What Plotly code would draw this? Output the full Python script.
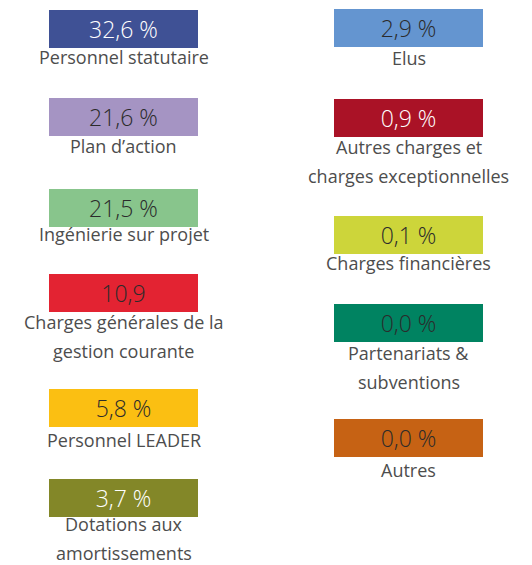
import plotly.graph_objects as go

# ---- data ----
categories = [
    "Personnel statutaire", "Plan d’action", "Ingénierie sur projet",
    "Charges générales de la<br>gestion courante", "Personnel LEADER",
    "Dotations aux<br>amortissements",
    "Elus", "Autres charges et<br>charges exceptionnelles", "Charges financières",
    "Partenariats &<br>subventions", "Autres",
]
values = [32.6, 21.6, 21.5, 10.9, 5.8, 3.7, 2.9, 0.9, 0.1, 0.0, 0.0]
value_labels = ["32,6 %", "21,6 %", "21,5 %", "10,9", "5,8 %", "3,7 %",
                "2,9 %", "0,9 %", "0,1 %", "0,0 %", "0,0 %"]
colors = ["#3F5195", "#A594C3", "#88C58C", "#E32332", "#FBBF12", "#838728",
          "#6495D0", "#AA1226", "#CDD53A", "#008361", "#C66214"]
text_colors = ["white", "#2b2b2b", "#2b2b2b", "#2b2b2b", "#2b2b2b", "white",
               "#2b2b2b", "white", "#2b2b2b", "#2b2b2b", "#2b2b2b"]

# ---- layout (pixel positions of tiles) ----
col_x = [123.5] * 6 + [408.5] * 5
tile_top = [10, 98, 189, 274, 389, 479, 9, 99, 216, 304, 419]
label_y = [57, 146, 234, 322, 440, 524, 58, 147, 263, 353, 470]
line_gap = 29
tile_w = 149
tile_h = 38

fig = go.Figure()
fig.add_trace(go.Bar(
    x=col_x, y=[tile_h] * len(values), base=tile_top, width=tile_w,
    marker=dict(color=colors, line=dict(width=0)),
    text=value_labels, textposition="inside", insidetextanchor="middle",
    textangle=0,
    textfont=dict(family="Open Sans", size=23, color=text_colors, weight=300),
    customdata=values, hoverinfo="skip",
))

for cx, ly, lab in zip(col_x, label_y, categories):
    for i, line in enumerate(lab.split("<br>")):
        fig.add_annotation(x=cx, y=ly + i * line_gap, text=line, showarrow=False,
                           font=dict(family="Open Sans", size=18, color="#4d4d4d"),
                           xanchor="center", yanchor="middle", align="center",
                           borderpad=0)

fig.update_layout(
    width=532, height=565, margin=dict(l=0, r=0, t=0, b=0),
    paper_bgcolor="white", plot_bgcolor="white", showlegend=False,
    uniformtext=dict(minsize=23, mode="show"),
    xaxis=dict(range=[0, 532], visible=False, fixedrange=True),
    yaxis=dict(range=[565, 0], visible=False, fixedrange=True),
)
fig.write_html("out.html", config={"displayModeBar": False},
               post_script="document.body.style.margin='0';")
